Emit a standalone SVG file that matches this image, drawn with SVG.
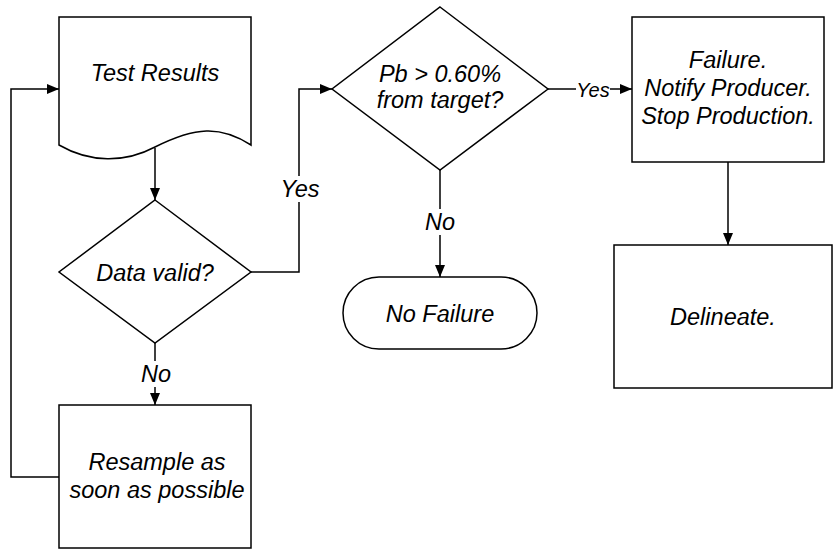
<svg xmlns="http://www.w3.org/2000/svg" width="833" height="552" viewBox="0 0 833 552">
<defs>
<marker id="ah" markerWidth="12" markerHeight="10" refX="12" refY="5" orient="auto" markerUnits="userSpaceOnUse">
<path d="M0,0 L12,5 L0,10 Z" fill="#000"/>
</marker>
<style>
.s{fill:#fff;stroke:#000;stroke-width:1.5}
.c{fill:none;stroke:#000;stroke-width:1.5}
text{font-family:"Liberation Sans",Arial,sans-serif;font-style:italic;font-size:23.5px;fill:#000;text-anchor:middle}
.lb{fill:#fff;stroke:none}
</style>
</defs>
<rect width="833" height="552" fill="#fff"/>
<g id="connectors">
<path class="c" d="M155,148 V200" marker-end="url(#ah)"/>
<path class="c" d="M251,272 H299 V89 H332" marker-end="url(#ah)"/>
<path class="c" d="M155,343 V405" marker-end="url(#ah)"/>
<path class="c" d="M59,477 H11 V89 H59" marker-end="url(#ah)"/>
<path class="c" d="M440,170 V277" marker-end="url(#ah)"/>
<path class="c" d="M548,89 H632" marker-end="url(#ah)"/>
<path class="c" d="M728,162 V245" marker-end="url(#ah)"/>
<rect class="lb" x="282" y="176" width="36" height="26"/>
<text x="300" y="197">Yes</text>
<rect class="lb" x="141" y="361" width="30" height="26"/>
<text x="156" y="382">No</text>
<rect class="lb" x="425" y="209" width="30" height="26"/>
<text x="440" y="230">No</text>
<rect class="lb" x="576" y="80" width="34" height="20"/>
<text x="593" y="97" style="font-size:20px">Yes</text>
</g>
<g id="test-results">
<path class="s" d="M59,17 H251 V145 C220,125 195,127 155,147 C125,163 90,163 59,145 Z"/>
<text x="155" y="81">Test Results</text>
</g>
<g id="data-valid">
<path class="s" d="M155,200 L251,272 L155,343 L59,272 Z"/>
<text x="155" y="281">Data valid?</text>
</g>
<g id="resample">
<rect class="s" x="59" y="405" width="192" height="143"/>
<text x="157" y="470">Resample as</text>
<text x="157" y="498">soon as possible</text>
</g>
<g id="pb-check">
<path class="s" d="M440,7 L548,89 L440,170 L332,89 Z"/>
<text x="440" y="82">Pb &gt; 0.60%</text>
<text x="440" y="108">from target?</text>
</g>
<g id="no-failure">
<rect class="s" x="343" y="277" width="194" height="72" rx="36" ry="36"/>
<text x="440" y="322">No Failure</text>
</g>
<g id="failure">
<rect class="s" x="632" y="17" width="192" height="145"/>
<text x="728" y="68">Failure.</text>
<text x="728" y="96">Notify Producer.</text>
<text x="728" y="124">Stop Production.</text>
</g>
<g id="delineate">
<rect class="s" x="614" y="245" width="218" height="143"/>
<text x="723" y="325">Delineate.</text>
</g>
</svg>
